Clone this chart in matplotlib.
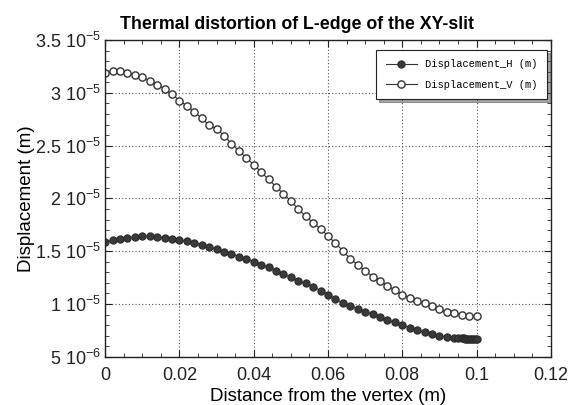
import numpy as np
import matplotlib
matplotlib.use('Agg')
import matplotlib.pyplot as plt
from matplotlib.ticker import MultipleLocator, FixedLocator, FixedFormatter

plt.rcParams['font.family'] = ['Liberation Sans', 'DejaVu Sans']
plt.rcParams['mathtext.fontset'] = 'custom'
plt.rcParams['mathtext.rm'] = 'Liberation Sans'
plt.rcParams['mathtext.it'] = 'Liberation Sans'
plt.rcParams['mathtext.default'] = 'regular'

# ----------------------------------------------------------------------
# Displacement along the L-edge (units of 1e-6 m)
# ----------------------------------------------------------------------
dist_v = [0.000, 0.002, 0.004, 0.006, 0.008, 0.010, 0.012, 0.014, 0.016, 0.018,
          0.020, 0.022, 0.024, 0.026, 0.028, 0.030, 0.032, 0.034, 0.036, 0.038,
          0.040, 0.042, 0.044, 0.046, 0.048, 0.050, 0.052, 0.054, 0.056, 0.058,
          0.060, 0.062, 0.064, 0.066, 0.068, 0.070, 0.072, 0.074, 0.076, 0.078,
          0.080, 0.082, 0.084, 0.086, 0.088, 0.090, 0.092, 0.094, 0.096, 0.098,
          0.100]
disp_v = [31.93, 32.03, 32.03, 31.87, 31.68, 31.49, 31.17, 30.79, 30.35, 29.87,
          29.27, 28.76, 28.22, 27.59, 26.95, 26.60, 25.95, 25.20, 24.50, 23.85,
          23.20, 22.50, 21.80, 21.10, 20.45, 19.75, 19.00, 18.30, 17.70, 17.10,
          16.45, 15.75, 15.05, 14.30, 13.70, 13.15, 12.60, 12.20, 11.75, 11.30,
          10.90, 10.60, 10.30, 10.05, 9.80, 9.50, 9.28, 9.13, 9.00, 8.87,
          8.85]

dist_h = [0.000, 0.002, 0.004, 0.006, 0.008, 0.010, 0.012, 0.014, 0.016, 0.018,
          0.020, 0.022, 0.024, 0.026, 0.028, 0.030, 0.032, 0.034, 0.036, 0.038,
          0.040, 0.042, 0.044, 0.046, 0.048, 0.050, 0.052, 0.054, 0.056, 0.058,
          0.060, 0.062, 0.064, 0.066, 0.068, 0.070, 0.072, 0.074, 0.076, 0.078,
          0.080, 0.082, 0.084, 0.086, 0.088, 0.090, 0.092, 0.094, 0.095, 0.096,
          0.0965, 0.097, 0.0975, 0.098, 0.0985, 0.099, 0.0995, 0.100]
disp_h = [15.86, 16.02, 16.18, 16.28, 16.33, 16.40, 16.40, 16.33, 16.28, 16.18,
          16.09, 15.95, 15.80, 15.60, 15.38, 15.19, 14.97, 14.75, 14.50, 14.28,
          14.02, 13.73, 13.48, 13.16, 12.85, 12.52, 12.20, 11.95, 11.62, 11.28,
          10.90, 10.45, 10.09, 9.84, 9.55, 9.27, 9.02, 8.78, 8.50, 8.25,
          8.02, 7.77, 7.53, 7.33, 7.17, 7.00, 6.89, 6.80, 6.77, 6.75,
          6.74, 6.73, 6.73, 6.72, 6.72, 6.71, 6.71, 6.70]

yticks = [5e-6, 1e-5, 1.5e-5, 2e-5, 2.5e-5, 3e-5, 3.5e-5]
ytick_labels = ['5 10$^{-6}$', '1 10$^{-5}$', '1.5 10$^{-5}$', '2 10$^{-5}$',
                '2.5 10$^{-5}$', '3 10$^{-5}$', '3.5 10$^{-5}$']
xticks = [0, 0.02, 0.04, 0.06, 0.08, 0.1, 0.12]
xtick_labels = ['0', '0.02', '0.04', '0.06', '0.08', '0.1', '0.12']

fig = plt.figure(figsize=(5.78, 4.05), dpi=100)
ax = fig.add_axes([0.182, 0.119, 0.771, 0.782])

ax.plot(dist_h, np.array(disp_h) * 1e-6, '-o', color='#333333', lw=0.8,
        markersize=5.2, markerfacecolor='#3a3a3a', markeredgecolor='#2a2a2a',
        markeredgewidth=0.8, label='Displacement_H (m)')
ax.plot(dist_v, np.array(disp_v) * 1e-6, '-o', color='#333333', lw=0.8,
        markersize=5.2, markerfacecolor='white', markeredgecolor='#333333',
        markeredgewidth=1.0, label='Displacement_V (m)')

ax.set_xlim(0, 0.12)
ax.set_ylim(5e-6, 3.5e-5)
ax.xaxis.set_major_locator(FixedLocator(xticks))
ax.xaxis.set_major_formatter(FixedFormatter(xtick_labels))
ax.xaxis.set_minor_locator(MultipleLocator(0.005))
ax.yaxis.set_major_locator(FixedLocator(yticks))
ax.yaxis.set_major_formatter(FixedFormatter(ytick_labels))
ax.yaxis.set_minor_locator(MultipleLocator(1e-6))
ax.tick_params(which='both', direction='in', top=True, right=True,
               labelsize=13, colors='#222222')
ax.tick_params(axis='x', which='major', pad=7)
ax.tick_params(axis='y', which='major', pad=3)
ax.tick_params(which='major', length=5)
ax.tick_params(which='minor', length=3)
ax.grid(True, which='major', linestyle=(0, (1, 2)), color='#555555', lw=0.8)
for s in ax.spines.values():
    s.set_linewidth(1.0)
    s.set_color('#222222')

ax.set_xlabel('Distance from the vertex (m)', fontsize=13.5, labelpad=3)
ax.set_ylabel('Displacement (m)', fontsize=13.5, labelpad=0)
ax.set_title('Thermal distortion of L-edge of the XY-slit', fontsize=12.8,
             fontweight='bold', pad=8, x=0.43)

leg = ax.legend(loc='upper right', prop={'family': 'Liberation Mono', 'size': 7.5},
                fancybox=False, shadow=True, framealpha=1, edgecolor='#222222',
                borderpad=0.9, labelspacing=1.0, handlelength=3,
                bbox_to_anchor=(1.003, 0.985))
leg.get_frame().set_linewidth(0.8)

fig.savefig('out.png', dpi=100)
